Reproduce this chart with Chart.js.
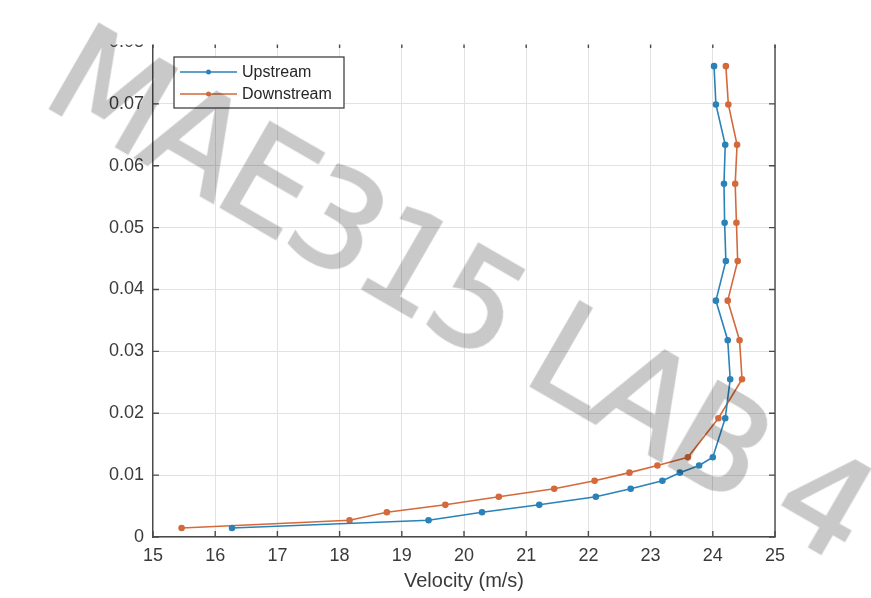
<!DOCTYPE html>
<html>
<head>
<meta charset="utf-8">
<script src="https://cdn.jsdelivr.net/npm/chart.js@4"></script>
<style>
  html, body { margin: 0; padding: 0; background: #ffffff; }
  #wrap { position: relative; width: 871px; height: 598px; overflow: hidden; }
  #c { position: absolute; left: 0; top: 0; }
  #wm {
    position: absolute; left: 460px; top: 292px;
    transform: translate(-50%, -50%) rotate(30deg);
    font-family: "DejaVu Sans", sans-serif; font-size: 134px; font-weight: 400;
    line-height: 1;
    color: rgb(201,201,201); -webkit-text-stroke: 2.5px rgb(201,201,201);
    mix-blend-mode: multiply;
    white-space: nowrap; pointer-events: none; letter-spacing: -5px;
  }
</style>
</head>
<body>
<div id="wrap">
  <canvas id="c" width="871" height="598"></canvas>
  <div id="wm">MAE315 LAB 4</div>
</div>
<script>
// ---- data ----
const heights = [0.00145, 0.0027, 0.0040, 0.0052, 0.0065, 0.0078, 0.0091, 0.0104, 0.01155, 0.0129,
                 0.0192, 0.0255, 0.0318, 0.0382, 0.0446, 0.0508, 0.0571, 0.0634, 0.0699, 0.0761];
const upstream = [16.27, 19.43, 20.29, 21.21, 22.12, 22.68, 23.19, 23.47, 23.78, 24.00,
                  24.20, 24.28, 24.24, 24.05, 24.21, 24.19, 24.18, 24.20, 24.05, 24.02];
const downstream = [15.46, 18.16, 18.76, 19.70, 20.56, 21.45, 22.10, 22.66, 23.11, 23.60,
                    24.09, 24.47, 24.43, 24.24, 24.40, 24.38, 24.36, 24.39, 24.25, 24.21];
const seriesNames = ['Upstream', 'Downstream'];
const xTickLabels = ['15','16','17','18','19','20','21','22','23','24','25'];
const yTickLabels = ['0','0.01','0.02','0.03','0.04','0.05','0.06','0.07','0.08'];
const xTitle = 'Velocity (m/s)';

const colors = ['#2b82b9', '#d4693b'];
const toPts = (xs) => xs.map((v, i) => ({ x: v, y: heights[i] }));

const inwardTicks = {
  id: 'inwardTicks',
  afterDraw(chart) {
    const ctx = chart.ctx, a = chart.chartArea;
    const xs = chart.scales.x, ys = chart.scales.y;
    ctx.save();
    ctx.strokeStyle = '#4a4a4a';
    ctx.lineWidth = 1.4;
    ctx.beginPath();
    ctx.moveTo(a.left, a.top); ctx.lineTo(a.right, a.top); ctx.lineTo(a.right, a.bottom);
    ctx.stroke();
    const L = 6;
    ctx.beginPath();
    xs.ticks.forEach(t => {
      const px = xs.getPixelForValue(t.value);
      ctx.moveTo(px, a.bottom); ctx.lineTo(px, a.bottom - L);
      ctx.moveTo(px, a.top); ctx.lineTo(px, a.top + L);
    });
    ys.ticks.forEach(t => {
      const py = ys.getPixelForValue(t.value);
      ctx.moveTo(a.left, py); ctx.lineTo(a.left + L, py);
      ctx.moveTo(a.right, py); ctx.lineTo(a.right - L, py);
    });
    ctx.stroke();

    // legend
    const bx = 174, by = 57, bw = 170, bh = 51;
    ctx.fillStyle = '#ffffff';
    ctx.fillRect(bx, by, bw, bh);
    ctx.strokeStyle = '#333333';
    ctx.lineWidth = 1.2;
    ctx.strokeRect(bx, by, bw, bh);
    ctx.font = '16px "Liberation Sans", Arial, sans-serif';
    ctx.textBaseline = 'middle';
    ctx.textAlign = 'left';
    chart.data.datasets.forEach((ds, i) => {
      const y = by + 15 + i * 22;
      ctx.strokeStyle = ds.borderColor;
      ctx.lineWidth = 1.5;
      ctx.beginPath(); ctx.moveTo(180, y); ctx.lineTo(237, y); ctx.stroke();
      ctx.fillStyle = ds.borderColor;
      ctx.beginPath(); ctx.arc(208.5, y, 2.5, 0, Math.PI * 2); ctx.fill();
      ctx.fillStyle = '#262626';
      ctx.fillText(ds.label, 242, y + 1);
    });

    // photo crop at the top
    ctx.fillStyle = '#ffffff';
    ctx.fillRect(0, 0, chart.width, 44.5);
    ctx.restore();
  }
};

new Chart(document.getElementById('c'), {
  type: 'scatter',
  data: {
    datasets: [
      { label: seriesNames[0], data: toPts(upstream), borderColor: colors[0], backgroundColor: colors[0],
        showLine: true, borderWidth: 1.6, pointRadius: 2.5, pointHoverRadius: 2.5 },
      { label: seriesNames[1], data: toPts(downstream), borderColor: colors[1], backgroundColor: colors[1],
        showLine: true, borderWidth: 1.6, pointRadius: 2.5, pointHoverRadius: 2.5 }
    ]
  },
  options: {
    responsive: false,
    animation: false,
    layout: { padding: { top: 42, right: 96, left: 0, bottom: 0 } },
    plugins: { legend: { display: false }, tooltip: { enabled: false } },
    scales: {
      x: {
        type: 'linear', min: 15, max: 25,
        afterFit(s) { s.height = 61; },
        ticks: { stepSize: 1, padding: 8, color: '#3a3a3a',
                 font: { family: '"Liberation Sans", Arial, sans-serif', size: 18 },
                 callback: (v, i) => xTickLabels[i] },
        grid: { color: '#e2e2e2', lineWidth: 1, drawTicks: false },
        border: { display: true, color: '#4a4a4a', width: 1.4 },
        title: { display: true, text: xTitle, color: '#3a3a3a', padding: { top: 2, bottom: 5 },
                 font: { family: '"Liberation Sans", Arial, sans-serif', size: 20 } }
      },
      y: {
        type: 'linear', min: 0, max: 0.08,
        afterFit(s) { s.width = 153; },
        ticks: { stepSize: 0.01, padding: 9, color: '#3a3a3a',
                 font: { family: '"Liberation Sans", Arial, sans-serif', size: 18 },
                 callback: (v, i) => yTickLabels[i] },
        grid: { color: '#e2e2e2', lineWidth: 1, drawTicks: false },
        border: { display: true, color: '#4a4a4a', width: 1.4 }
      }
    }
  },
  plugins: [inwardTicks]
});
</script>
</body>
</html>
